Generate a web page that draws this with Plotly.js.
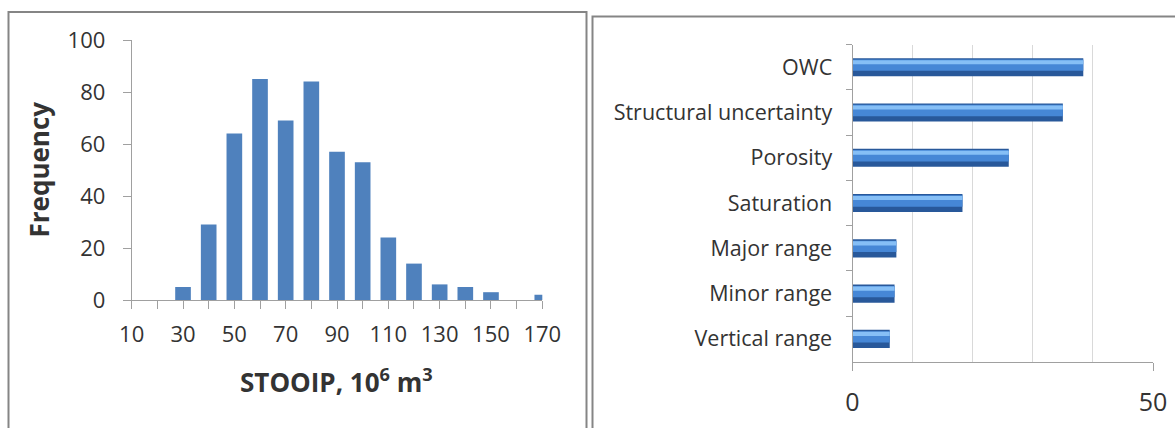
<!DOCTYPE html>
<html><head><meta charset="utf-8">
<script src="https://cdn.plot.ly/plotly-3.0.1.min.js"></script>
<style>html,body{margin:0;padding:0;background:#fff}#chart{width:1175px;height:428px}</style>
</head><body><div id="chart"></div>
<script>
// ---- data ----
const stooipBins = [10,20,30,40,50,60,70,80,90,100,110,120,130,140,150,160,170];
const frequency  = [0,0,5,29,64,85,69,84,57,53,24,14,6,5,3,0,2];
const stooipTickLabels = ['10','30','50','70','90','110','130','150','170'];
const freqTicks = [0,20,40,60,80,100];

const parameters  = ['OWC','Structural uncertainty','Porosity','Saturation','Major range','Minor range','Vertical range'];
const sensitivity = [38.4,35.0,26.0,18.3,7.3,7.0,6.2];
const sensTicks = [0,50];

// ---- layout helpers (pixels -> paper) ----
const W = 1175, H = 428;
const px = v => v / W;
const py = v => 1 - v / H;

const FONT = '"Open Sans", Lato, sans-serif';
const TXT = '#333333';
const AX = '#a0a0a0';

const traces = [
  {type:'bar', x: stooipBins, y: frequency, width: 6.1, xaxis:'x', yaxis:'y',
   marker:{color:'#4f81bd', line:{width:0}}, hoverinfo:'skip'},
  {type:'bar', orientation:'h', y: parameters, x: sensitivity, width: 0.40, xaxis:'x2', yaxis:'y2',
   marker:{color:'#28589a', line:{width:0}}, hoverinfo:'skip'},
  {type:'bar', orientation:'h', y: parameters, x: sensitivity, width: 0.25, offset:-0.17, xaxis:'x2', yaxis:'y2',
   marker:{color:'#4687d6', line:{width:0}}, hoverinfo:'skip'},
  {type:'bar', orientation:'h', y: parameters, x: sensitivity, width: 0.09, offset:-0.155, xaxis:'x2', yaxis:'y2',
   marker:{color:'#86bff6', line:{width:0}}, hoverinfo:'skip'}
];

const layout = {
  width: W, height: H,
  margin:{l:0,r:0,t:0,b:0},
  paper_bgcolor:'#ffffff', plot_bgcolor:'rgba(0,0,0,0)',
  showlegend:false, barmode:'overlay',
  font:{family:FONT, color:TXT},
  xaxis:{domain:[px(131.7), px(542.3)], range:[10,170], anchor:'y',
    tickmode:'array', tickvals: stooipBins.filter((v,i)=>i%2===0), ticktext: stooipTickLabels,
    ticks:'outside', ticklen:8, tickcolor:AX, tickwidth:1,
    minor:{dtick:10, tick0:10, ticks:'outside', ticklen:8, tickcolor:AX, tickwidth:1, showgrid:false},
    showline:true, linecolor:AX, linewidth:1, showgrid:false, zeroline:false,
    tickfont:{size:22, color:TXT, family:FONT}, ticklabelstandoff:7, fixedrange:true},
  yaxis:{domain:[py(300), py(40)], range:[0,100], anchor:'x',
    tickmode:'array', tickvals: freqTicks,
    ticks:'outside', ticklen:8, tickcolor:AX, tickwidth:1,
    showline:true, linecolor:AX, linewidth:1, showgrid:false, zeroline:false,
    tickfont:{size:22, color:TXT, family:FONT}, ticklabelstandoff:13, fixedrange:true},
  xaxis2:{domain:[px(852.5), px(1153)], range:[0,50], anchor:'y2',
    tickmode:'array', tickvals: sensTicks,
    ticks:'outside', ticklen:8, tickcolor:AX, tickwidth:1,
    showline:true, linecolor:AX, linewidth:1, showgrid:true, gridcolor:'#d9d9d9', zeroline:false,
    minor:{dtick:10, showgrid:true, gridcolor:'#d9d9d9', ticks:''},
    tickfont:{size:25, color:TXT, family:FONT}, ticklabelstandoff:10, fixedrange:true},
  yaxis2:{domain:[py(361.5), py(44.6)], anchor:'x2', type:'category',
    categoryorder:'array', categoryarray: parameters, autorange:'reversed',
    ticks:'outside', tickson:'boundaries', ticklen:6, tickcolor:AX, tickwidth:1,
    showline:true, linecolor:AX, linewidth:1, showgrid:false, zeroline:false,
    tickfont:{size:21.5, color:TXT, family:FONT}, ticklabelstandoff:15, fixedrange:true},
  shapes:[
    {type:'rect', xref:'paper', yref:'paper', x0:px(8.5), x1:px(586.5), y0:-0.2, y1:py(12), line:{color:'#858585', width:2}},
    {type:'rect', xref:'paper', yref:'paper', x0:px(592.5), x1:1.2, y0:-0.2, y1:py(16.5), line:{color:'#858585', width:2}}
  ],
  annotations:[
    {xref:'paper', yref:'paper', x:px(38.5), y:py(170), text:'<b>Frequency</b>', textangle:-90,
     showarrow:false, xanchor:'center', yanchor:'middle', font:{size:26, color:TXT, family:FONT}},
    {xref:'paper', yref:'paper', x:px(336.7), y:py(381), text:'<b>STOOIP, 10<sup>6</sup> m<sup>3</sup></b>',
     showarrow:false, xanchor:'center', yanchor:'middle', font:{size:26, color:TXT, family:FONT}}
  ]
};

Plotly.newPlot('chart', traces, layout, {staticPlot:true, displayModeBar:false});
</script>
</body></html>
